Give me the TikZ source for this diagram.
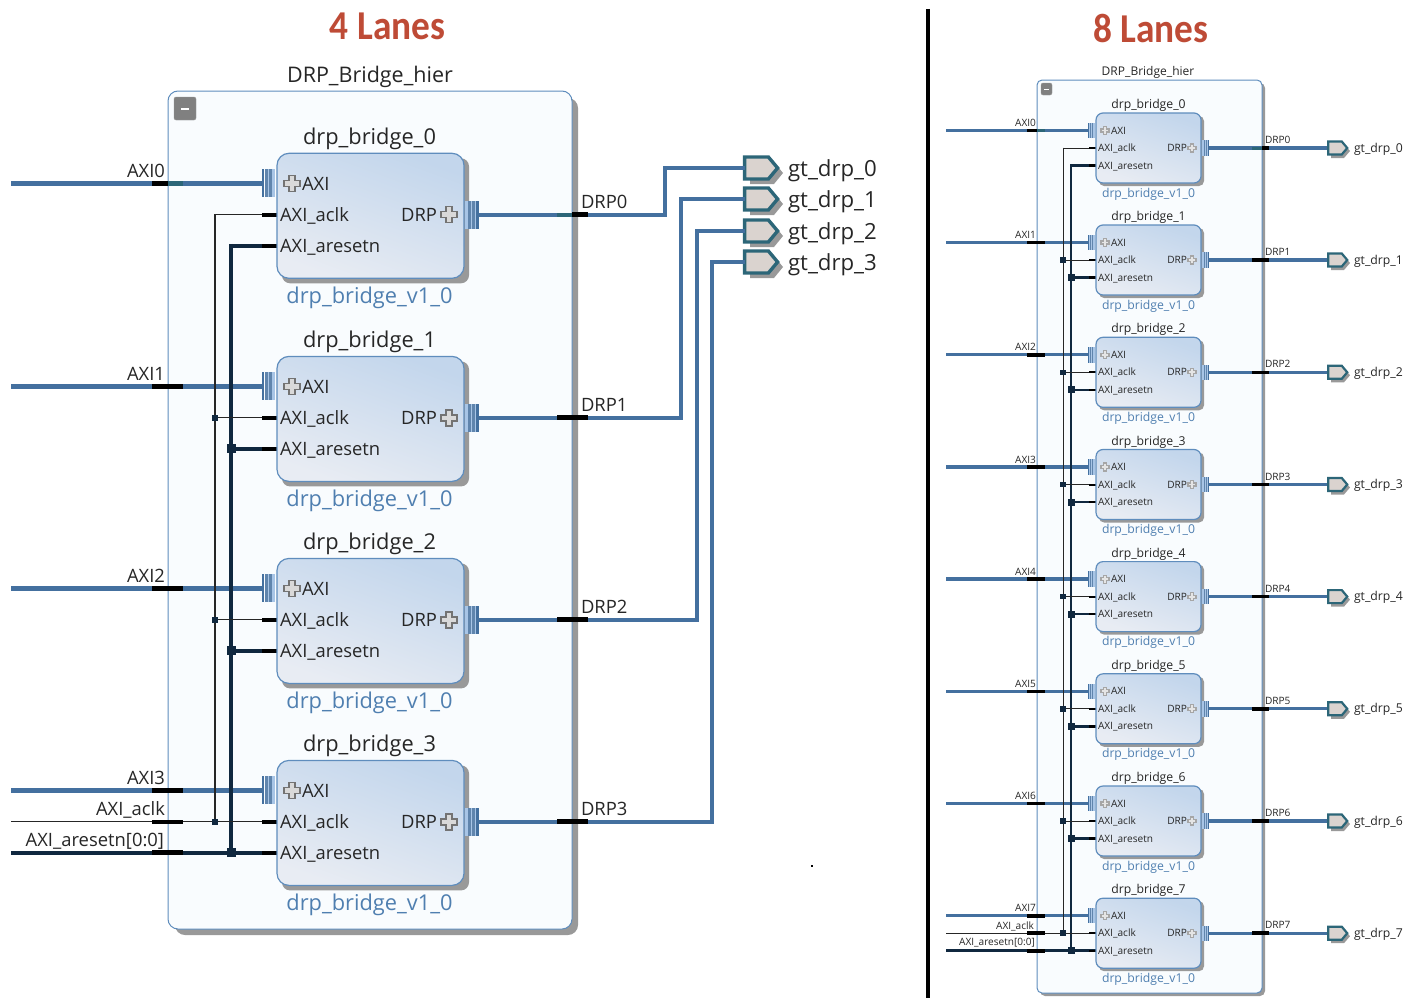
\documentclass[tikz,border=0pt]{standalone}
\usepackage{fontspec}
\setmainfont{Open Sans}
\newfontfamily\titlefont{Carlito}
\usetikzlibrary{shapes.symbols,shadows}
\definecolor{busblue}{HTML}{44709F}
\definecolor{darkwire}{HTML}{10283F}
\definecolor{teal}{HTML}{2C6678}
\definecolor{hierfill}{HTML}{F9FCFE}
\definecolor{edge}{HTML}{5F8DBD}
\definecolor{lab}{HTML}{4F7FB0}
\definecolor{shad}{HTML}{999999}
\definecolor{title}{HTML}{BE4B36}
\definecolor{portfill}{HTML}{DAD3CF}
\definecolor{blockL}{HTML}{C3D6EC}
\definecolor{blockR}{HTML}{E8ECF3}
\definecolor{barlight}{HTML}{A8C5E6}
\newcommand\fs[1]{\fontsize{#1}{#1}\selectfont}
\tikzset{
 x=1pt,y=-1pt,
 txt/.style={inner sep=0pt,outer sep=0pt,text=black!85},
 L/.style={txt,anchor=base west},
 R/.style={txt,anchor=base east},
 C/.style={txt,anchor=base},
 hier/.style={draw=edge,line width=1pt,fill=hierfill,rounded corners=#1},
 block/.style={draw=edge,line width=1.2pt,left color=blockL,right color=blockR,
   rounded corners=#1,inner sep=0pt,outer sep=0pt,shading angle=-20},
 axiw/.style={draw=busblue,line width=#1},
 thinw/.style={draw=black!85,line width=#1},
 thickw/.style={draw=darkwire,line width=#1},
 port/.style={shape=signal,signal to=east,signal from=nowhere,draw=teal,fill=portfill,inner sep=0pt,outer sep=0pt,line width=#1,signal pointer angle=100},
 jn/.style={fill=darkwire,draw=none,inner sep=0pt,outer sep=0pt,minimum size=#1},
 btn/.style={fill=black!50,draw=black!40,rounded corners=2pt,inner sep=0pt,outer sep=0pt},
}
% bus bars: #1 position, #2 scale, #3 direction
\newcommand\busb[3]{\begin{scope}[shift={#1},scale=#2,xscale=#3]
 \fill[barlight] (0,-14) rectangle (10.5,14);
 \fill[busblue!85] (3,-14) rectangle (5.8,14);
 \fill[busblue!85] (7,-14) rectangle (9.8,14);
 \fill[busblue] (10.8,-14) rectangle (13.5,14);
 \end{scope}}
\newcommand\plusic[4]{\begin{scope}[shift={#1},scale=#2]
 \draw[fill=#3,draw=#4,line width=1.2pt] (-3,-8)--(3,-8)--(3,-3)--(8,-3)--(8,3)--(3,3)--(3,8)--(-3,8)--(-3,3)--(-8,3)--(-8,-3)--(-3,-3)--cycle;
 \end{scope}}
\begin{document}
\begin{tikzpicture}
\useasboundingbox (0,0) rectangle (1418,998);
% ==== titles
\node[C,text=title] (t4) at (387.5,40) {\titlefont\bfseries\fs{41}\scalebox{0.91}[1]{4 Lanes}};
\node[C,text=title] (t8) at (1151,43) {\titlefont\bfseries\fs{41}\scalebox{0.91}[1]{8 Lanes}};
\coordinate (divT) at (928,9); \coordinate (divB) at (928,998);
\draw[line width=3.6pt] (divT)--(divB);
\node[fill=black,inner sep=0pt,minimum size=2pt] (dot) at (812,866) {};
% ==== LEFT
\node[C] (hl) at (370,82) {\fs{21.5}DRP\_Bridge\_hier};
\fill[shad,rounded corners=10pt] (175,98) rectangle (578,935);
\node[hier=10pt,minimum width=404pt,minimum height=838pt,inner sep=0pt,outer sep=0pt] (HL) at (370,510) {};
\node[btn,minimum width=22pt,minimum height=23pt] (bl) at (185,108.5) {};
\fill[white] (181,107.5) rectangle (189,109.5);
\foreach \i/\yy in {0/153.3,1/356.4,2/558.4,3/760.4}{
 \coordinate (wa\i) at (11,\yy+30); \coordinate (pa\i) at (262,\yy+30);
 \coordinate (pc\i) at (277,\yy+61.5); \coordinate (pr\i) at (277,\yy+92.5);
 \coordinate (pd\i) at (478,\yy+61.5);
 \coordinate (vc\i) at (215,\yy+61.5); \coordinate (vr\i) at (231,\yy+92.5);
 \draw[axiw=4.4pt] (wa\i)--(pa\i);
}
\draw[thinw=1.1pt] (vc0)--(pc0); \draw[thinw=1.1pt] (215,214.3)--(vc3);
\draw[thickw=4pt] (vr0)--(pr0); \draw[thickw=4pt] (231,243.8)--(vr3);
\coordinate (wc) at (11,821.9); \coordinate (wr) at (11,852.9);
\draw[thinw=1.1pt] (wc)--(pc3);
\draw[thickw=4pt] (wr)--(pr3);
\foreach \i in {1,2,3}{
 \draw[thinw=1.1pt] (vc\i)--(pc\i);
 \draw[thickw=4pt] (vr\i)--(pr\i);
 \node[jn=6pt] (jc\i) at (vc\i) {};
 \node[jn=9pt] (jr\i) at (vr\i) {};
}
\foreach \i/\py/\vx in {0/168/665,1/199/681,2/231/697,3/262/712}{
 \fill[shad] (750,\py-6) -- (774,\py-6) -- (783,\py+5) -- (774,\py+16) -- (750,\py+16) -- cycle;
 \node[port=3.4pt,minimum width=33pt,minimum height=22pt] (P\i) at (756.5,\py) {};
 \node[L] (pt\i) at (788,\py+8) {\fs{22.2}gt\_drp\_\i};
 \draw[axiw=4.4pt] (pd\i) -| (\vx,\py) -- (P\i.west);
}
\foreach \i/\yy in {0/153.3,1/356.4,2/558.4,3/760.4}{
 \fill[black] (262,\yy+59.7) rectangle (277,\yy+63.3);
 \fill[black] (262,\yy+90.5) rectangle (277,\yy+94.5);
 \ifnum\i=0
   \fill[black] (152,\yy+27.5) rectangle (168,\yy+32.5);
   \fill[teal] (168,\yy+27.8) rectangle (183,\yy+32.2);
   \fill[teal] (557,\yy+59.3) rectangle (572,\yy+63.7);
   \fill[black] (572,\yy+59) rectangle (588,\yy+64);
 \else
   \fill[black] (152,\yy+27.5) rectangle (183,\yy+32.5);
   \fill[black] (557,\yy+59) rectangle (588,\yy+64);
 \fi
 \fill[shad,rounded corners=8pt] (282,\yy+5) rectangle (469,\yy+130);
 \node[block=12pt,minimum width=187pt,minimum height=125pt] (B\i) at (370.5,\yy+62.5) {};
 \busb{(275,\yy+30)}{1}{-1}
 \busb{(465,\yy+61.5)}{1}{1}
 \plusic{(292,\yy+30)}{1}{black!15}{black!55}
 \plusic{(449,\yy+61.5)}{1}{black!15}{black!55}
 \node[C] (n\i) at (369.5,\yy-8.5) {\fs{21.8}drp\_bridge\_\i};
 \node[C,text=lab] (v\i) at (369.5,\yy+150) {\fs{21.8}drp\_bridge\_v1\_0};
 \node[L] (ta\i) at (302,\yy+37) {\fs{18.4}AXI};
 \node[L] (tc\i) at (280,\yy+68.5) {\fs{18.4}AXI\_aclk};
 \node[L] (tr\i) at (280,\yy+99.5) {\fs{18.4}AXI\_aresetn};
 \node[R] (td\i) at (437,\yy+68.5) {\fs{18.4}DRP};
 \node[R] (la\i) at (165,\yy+24.5) {\fs{18.4}AXI\i};
 \node[L] (ld\i) at (581,\yy+55) {\fs{18.4}DRP\i};
}
\fill[black] (152,820.1) rectangle (183,823.7);
\fill[black] (152,850.4) rectangle (183,855.4);
\node[R] (lc) at (165,815) {\fs{18.4}AXI\_aclk};
\node[R] (lr) at (164,846) {\fs{18.4}AXI\_aresetn[0:0]};
% ==== RIGHT
\node[C] (hr) at (1148,75) {\fs{12}DRP\_Bridge\_hier};
\fill[shad,rounded corners=5pt] (1040,83) rectangle (1265,996);
\node[hier=5pt,minimum width=225pt,minimum height=913pt,inner sep=0pt,outer sep=0pt] (HR) at (1149.5,536.5) {};
\node[btn,minimum width=11pt,minimum height=12pt] (br) at (1046.5,89) {};
\fill[white] (1044,88.5) rectangle (1049,89.5);
\foreach \i/\yy in {0/113,1/225,2/337.3,3/449.5,4/561.6,5/673.8,6/786,7/898.2}{
 \coordinate (Wa\i) at (946,\yy+17.5); \coordinate (Pa\i) at (1088,\yy+17.5);
 \coordinate (Pc\i) at (1096,\yy+35); \coordinate (Pr\i) at (1096,\yy+52.5);
 \coordinate (Pd\i) at (1209,\yy+35);
 \coordinate (Vc\i) at (1063,\yy+35); \coordinate (Vr\i) at (1071,\yy+52.5);
 \coordinate (Po\i) at (1328,\yy+35);
 \draw[axiw=3.3pt] (Wa\i)--(Pa\i);
 \draw[axiw=3.3pt] (Pd\i)--(Po\i);
}
\draw[thinw=1pt] (Vc0)--(Pc0); \draw[thinw=1pt] (1063,147.5)--(Vc7);
\draw[thickw=2.5pt] (Vr0)--(Pr0); \draw[thickw=2.5pt] (1071,164.25)--(Vr7);
\coordinate (Wc) at (946,933.2); \coordinate (Wr) at (946,950.7);
\draw[thinw=1pt] (Wc)--(Pc7); \draw[thickw=2.5pt] (Wr)--(Pr7);
\foreach \i in {1,...,7}{
 \draw[thinw=1pt] (Vc\i)--(Pc\i);
 \draw[thickw=2.5pt] (Vr\i)--(Pr\i);
 \node[jn=5.5pt] (Jc\i) at (Vc\i) {};
 \node[jn=7pt] (Jr\i) at (Vr\i) {};
}
\foreach \i/\yy in {0/113,1/225,2/337.3,3/449.5,4/561.6,5/673.8,6/786,7/898.2}{
 \fill[black] (1089,\yy+34) rectangle (1096,\yy+36);
 \fill[black] (1089,\yy+51.3) rectangle (1096,\yy+53.7);
 \ifnum\i=0
   \fill[black] (1027,\yy+15.7) rectangle (1037,\yy+19.3);
   \fill[teal] (1037,\yy+16) rectangle (1045,\yy+19);
   \fill[teal] (1252,\yy+33.5) rectangle (1262,\yy+36.5);
   \fill[black] (1262,\yy+33.2) rectangle (1269,\yy+36.8);
 \else
   \fill[black] (1027,\yy+15.7) rectangle (1045,\yy+19.3);
   \fill[black] (1252,\yy+33.2) rectangle (1269,\yy+36.8);
 \fi
 \fill[shad,rounded corners=5pt] (1099,\yy+3) rectangle (1204,\yy+73);
 \node[block=7pt,minimum width=105pt,minimum height=70pt] (C\i) at (1148.5,\yy+35) {};
 \busb{(1095,\yy+17.5)}{0.55}{-1}
 \busb{(1202,\yy+35)}{0.55}{1}
 \plusic{(1105,\yy+17.5)}{0.5}{white!90!black}{black!35}
 \plusic{(1192,\yy+35)}{0.5}{white!90!black}{black!35}
 \node[C] (N\i) at (1148.5,\yy-4.5) {\fs{12.2}drp\_bridge\_\i};
 \node[C,text=lab] (W\i) at (1148.5,\yy+84) {\fs{12.2}drp\_bridge\_v1\_0};
 \node[L] (Ta\i) at (1111,\yy+21) {\fs{10.1}AXI};
 \node[L] (Tc\i) at (1098,\yy+38.5) {\fs{10.1}AXI\_aclk};
 \node[L] (Tr\i) at (1098,\yy+56) {\fs{10.1}AXI\_aresetn};
 \node[R] (Td\i) at (1187,\yy+38.5) {\fs{10.1}DRP};
 \node[R] (La\i) at (1036,\yy+13.5) {\fs{10.1}AXI\i};
 \node[L] (Ld\i) at (1265,\yy+30.5) {\fs{10.1}DRP\i};
 \fill[shad] (1331,\yy+31) -- (1344,\yy+31) -- (1350,\yy+38) -- (1344,\yy+45) -- (1331,\yy+45) -- cycle;
 \node[port=2.2pt,minimum width=19pt,minimum height=13pt] (Q\i) at (1335,\yy+35) {};
 \node[L] (Qt\i) at (1354,\yy+39) {\fs{12.2}gt\_drp\_\i};
}
\fill[black] (1027,931.4) rectangle (1045,935);
\fill[black] (1027,948.7) rectangle (1045,952.7);
\node[R] (Lc) at (1034,929.5) {\fs{10.1}AXI\_aclk};
\node[R] (Lr) at (1035,945.5) {\fs{10.1}AXI\_aresetn[0:0]};
\end{tikzpicture}
\end{document}
